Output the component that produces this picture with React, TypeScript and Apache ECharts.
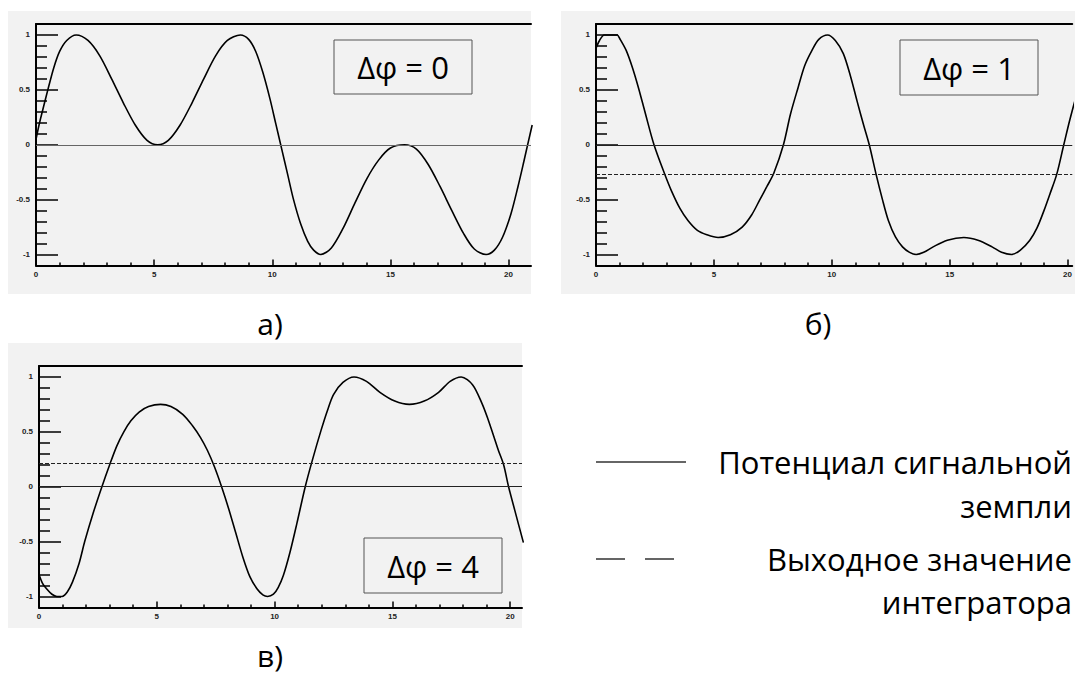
import React, { useEffect, useRef } from "react";
import * as echarts from "echarts";

// ---------- data ----------
const curveA: [number, number][] = [
  [0, 0.05], [0.15, 0.2], [0.3, 0.33], [0.5, 0.5], [0.75, 0.7], [1.0, 0.85], [1.3, 0.95], [1.7, 1.0],
  [2.2, 0.95], [2.7, 0.81], [3.2, 0.6], [3.7, 0.38], [4.2, 0.18], [4.7, 0.04], [5.15, 0.0],
  [5.6, 0.04], [6.1, 0.18], [6.6, 0.38], [7.1, 0.6], [7.6, 0.81], [8.1, 0.95], [8.65, 1.0],
  [9.0, 0.96], [9.3, 0.85], [9.6, 0.66], [9.9, 0.42], [10.15, 0.19], [10.4, -0.04], [10.65, -0.27],
  [10.9, -0.5], [11.2, -0.72], [11.5, -0.88], [11.75, -0.96], [12.05, -1.0],
  [12.5, -0.94], [13.0, -0.76], [13.5, -0.53], [14.0, -0.31], [14.5, -0.14], [15.0, -0.03], [15.6, 0.0],
  [16.1, -0.04], [16.6, -0.18], [17.1, -0.38], [17.6, -0.6], [18.1, -0.81], [18.55, -0.95], [19.05, -1.0],
  [19.4, -0.96], [19.75, -0.84], [20.1, -0.63], [20.4, -0.38], [20.65, -0.15], [20.85, 0.04], [21.0, 0.18],
];

const curveB: [number, number][] = [
  [0, 0.88], [0.15, 0.95], [0.35, 1.0], [0.6, 1.0], [0.9, 1.0], [1.0, 0.97], [1.28, 0.86], [1.55, 0.7],
  [1.8, 0.52], [2.1, 0.28], [2.46, 0.0], [2.9, -0.26], [3.2, -0.42], [3.56, -0.58], [3.9, -0.69],
  [4.3, -0.78], [4.7, -0.82], [5.18, -0.845], [5.7, -0.82], [6.2, -0.75], [6.6, -0.64], [6.95, -0.5],
  [7.25, -0.38], [7.54, -0.26], [7.95, 0.0], [8.25, 0.28], [8.57, 0.52], [8.85, 0.72], [9.16, 0.86],
  [9.45, 0.96], [9.82, 1.0], [10.15, 0.95], [10.49, 0.83], [10.8, 0.62], [11.07, 0.4], [11.35, 0.18],
  [11.59, 0.0], [11.88, -0.27], [12.15, -0.5], [12.4, -0.69], [12.7, -0.84], [13.0, -0.93], [13.3, -0.98],
  [13.58, -1.0], [13.9, -0.98], [14.3, -0.93], [14.9, -0.87], [15.6, -0.845], [16.2, -0.87], [16.8, -0.93],
  [17.2, -0.98], [17.63, -1.0], [18.0, -0.96], [18.4, -0.87], [18.7, -0.76], [19.0, -0.6], [19.25, -0.45],
  [19.54, -0.27], [19.84, 0.0], [20.1, 0.23], [20.4, 0.47],
];

const curveC: [number, number][] = [
  [0, -0.8], [0.15, -0.88], [0.32, -0.93], [0.55, -0.98], [0.76, -1.0], [0.98, -1.0], [1.2, -0.96],
  [1.42, -0.87], [1.7, -0.7], [1.94, -0.5], [2.3, -0.24], [2.67, 0.0], [3.0, 0.2], [3.3, 0.37],
  [3.6, 0.5], [3.9, 0.6], [4.25, 0.68], [4.65, 0.73], [5.16, 0.75], [5.6, 0.73], [6.1, 0.66],
  [6.5, 0.56], [6.85, 0.45], [7.15, 0.33], [7.45, 0.18], [7.75, 0.0], [8.05, -0.2], [8.35, -0.42],
  [8.65, -0.64], [8.95, -0.82], [9.25, -0.93], [9.5, -0.985], [9.7, -1.0], [9.95, -0.98], [10.15, -0.92],
  [10.37, -0.81], [10.65, -0.6], [10.95, -0.33], [11.3, 0.0], [11.6, 0.24], [11.98, 0.52], [12.25, 0.7],
  [12.5, 0.84], [12.9, 0.95], [13.37, 1.0], [13.9, 0.96], [14.47, 0.86], [15.1, 0.78], [15.72, 0.75],
  [16.35, 0.78], [16.96, 0.86], [17.45, 0.96], [17.92, 1.0], [18.4, 0.93], [18.8, 0.76], [19.05, 0.62],
  [19.3, 0.46], [19.5, 0.33], [19.72, 0.2], [19.93, 0.0], [20.2, -0.22], [20.56, -0.51],
];

const groundLevel = 0;
const integratorLevels: (number | null)[] = [null, -0.27, 0.21];
const phaseLabels = ["Δφ = 0", "Δφ = 1", "Δφ = 4"];
const panelCaptions = ["а)", "б)", "в)"];
const legendLabels = ["Потенциал сигнальной\nземпли", "Выходное значение\nинтегратора"];

const xMajorTicks = [0, 5, 10, 15, 20];
const xMinorTicks = [1, 2, 3, 4, 6, 7, 8, 9, 11, 12, 13, 14, 16, 17, 18, 19];
const yMajorTicks = [-1, -0.5, 0, 0.5, 1];
const yMinorTicks = [-1.1, -0.9, -0.8, -0.7, -0.6, -0.4, -0.3, -0.2, -0.1, 0.1, 0.2, 0.3, 0.4, 0.6, 0.7, 0.8, 0.9, 1.1];
const yMin = -1.1;
const yMax = 1.1;

// ---------- layout ----------
const layout = [
  { grid: { left: 36, top: 24, width: 495, height: 241.5 }, xMax: 20.95, bg: [8, 11, 523, 283], box: [334, 40, 138, 54], cap: [270, 323] },
  { grid: { left: 596, top: 24, width: 479, height: 241.5 }, xMax: 20.2, bg: [561, 11, 514, 283], box: [900, 40, 138, 55], cap: [818, 323] },
  { grid: { left: 39, top: 366, width: 483, height: 241.4 }, xMax: 20.5, bg: [8, 343, 514, 285], box: [364, 538, 138, 55], cap: [270, 655] },
];

const curves = [curveA, curveB, curveC];
const BG = "#f2f2f2";
const labelStyle = { fontSize: 8, fontWeight: "bold" as const, color: "#222", fontFamily: "Liberation Sans, Arial, sans-serif" };
const textFont = "'Open Sans', 'Noto Sans', sans-serif";
const FS = 31;
const CAP_FS = 30;

export default function App() {
  const ref = useRef<HTMLDivElement>(null);
  useEffect(() => {
    if (!ref.current) return;
    const chart = echarts.init(ref.current, undefined, { renderer: "svg" });

    const grids: any[] = [];
    const xAxes: any[] = [];
    const yAxes: any[] = [];
    const series: any[] = [];
    const graphics: any[] = [];

    layout.forEach((p, i) => {
      grids.push({ ...p.grid, containLabel: false });
      const xBase = { gridIndex: i, type: "value", min: 0, max: p.xMax, splitLine: { show: false } };
      xAxes.push({
        ...xBase, position: "bottom", offset: 0,
        axisLine: { show: true, onZero: false, lineStyle: { color: "#000", width: 2 } },
        axisTick: { show: true, inside: true, length: 6, customValues: xMajorTicks, lineStyle: { color: "#000", width: 1.5 } },
        axisLabel: { show: true, customValues: xMajorTicks, margin: 5, ...labelStyle },
      });
      xAxes.push({
        ...xBase, position: "bottom", offset: 0,
        axisLine: { show: false, onZero: false },
        axisTick: { show: true, inside: true, length: 3, customValues: xMinorTicks, lineStyle: { color: "#000", width: 1.5 } },
        axisLabel: { show: false },
      });
      xAxes.push({
        ...xBase, position: "top", offset: 0,
        axisLine: { show: true, onZero: false, lineStyle: { color: "#000", width: 2 } },
        axisTick: { show: false },
        axisLabel: { show: false },
      });
      const yBase = { gridIndex: i, type: "value", min: yMin, max: yMax, splitLine: { show: false } };
      yAxes.push({
        ...yBase, position: "left", offset: 0,
        axisLine: { show: true, onZero: false, lineStyle: { color: "#000", width: 2 } },
        axisTick: { show: true, inside: true, length: 22, customValues: yMajorTicks, lineStyle: { color: "#000", width: 1.5 } },
        axisLabel: { show: true, customValues: yMajorTicks, margin: 6, ...labelStyle },
      });
      yAxes.push({
        ...yBase, position: "left", offset: 0,
        axisLine: { show: false, onZero: false },
        axisTick: { show: true, inside: true, length: 11, customValues: yMinorTicks, lineStyle: { color: "#000", width: 1.5 } },
        axisLabel: { show: false },
      });

      const mlData: any[] = [
        { yAxis: groundLevel, lineStyle: { type: "solid", color: i === 0 ? "#666" : "#222", width: 1 } },
      ];
      const lvl = integratorLevels[i];
      if (lvl !== null) {
        mlData.push({ yAxis: lvl, lineStyle: { type: [4, 2], color: "#222", width: 1 } });
      }
      series.push({
        type: "line",
        xAxisIndex: i * 3,
        yAxisIndex: i * 2,
        data: curves[i],
        smooth: 0.3,
        showSymbol: false,
        symbol: "none",
        clip: true,
        lineStyle: { color: "#000", width: 1.6 },
        markLine: { silent: true, symbol: ["none", "none"], label: { show: false }, data: mlData },
        z: 3,
      });

      const [bx, by, bw, bh] = p.bg;
      graphics.push({ type: "rect", z: -10, shape: { x: bx, y: by, width: bw, height: bh }, style: { fill: BG } });
      const [rx, ry, rw, rh] = p.box;
      graphics.push({
        type: "rect", z: 50, shape: { x: rx, y: ry, width: rw, height: rh },
        style: { fill: BG, stroke: "#555", lineWidth: 1 },
      });
      graphics.push({
        type: "text", z: 51, x: rx + rw / 2, y: ry + rh / 2,
        style: { text: phaseLabels[i], fontSize: FS, lineHeight: FS, fontFamily: textFont, fill: "#000", textAlign: "center", textVerticalAlign: "middle" },
      });
      graphics.push({
        type: "text", z: 51, x: p.cap[0], y: p.cap[1],
        style: { text: panelCaptions[i], fontSize: CAP_FS, lineHeight: CAP_FS, fontFamily: textFont, fill: "#000", textAlign: "center", textVerticalAlign: "middle" },
      });
    });

    // legend
    graphics.push({ type: "line", shape: { x1: 596, y1: 462, x2: 686, y2: 462 }, style: { stroke: "#333", lineWidth: 1.5 } });
    graphics.push({ type: "line", shape: { x1: 596, y1: 559, x2: 675, y2: 559 }, style: { stroke: "#333", lineWidth: 1.5, lineDash: [29, 20] } });
    graphics.push({
      type: "text", x: 1072, y: 484,
      style: { text: legendLabels[0], fontSize: FS, lineHeight: 44, fontFamily: textFont, fill: "#000", textAlign: "right", textVerticalAlign: "middle" },
    });
    graphics.push({
      type: "text", x: 1072, y: 580,
      style: { text: legendLabels[1], fontSize: FS, lineHeight: 43, fontFamily: textFont, fill: "#000", textAlign: "right", textVerticalAlign: "middle" },
    });

    chart.setOption({
      animation: false,
      backgroundColor: "#fff",
      grid: grids,
      xAxis: xAxes,
      yAxis: yAxes,
      series,
      graphic: graphics,
    });
    return () => chart.dispose();
  }, []);
  return <div ref={ref} style={{ position: "absolute", left: 0, top: 0, width: 1075, height: 677 }} />;
}
